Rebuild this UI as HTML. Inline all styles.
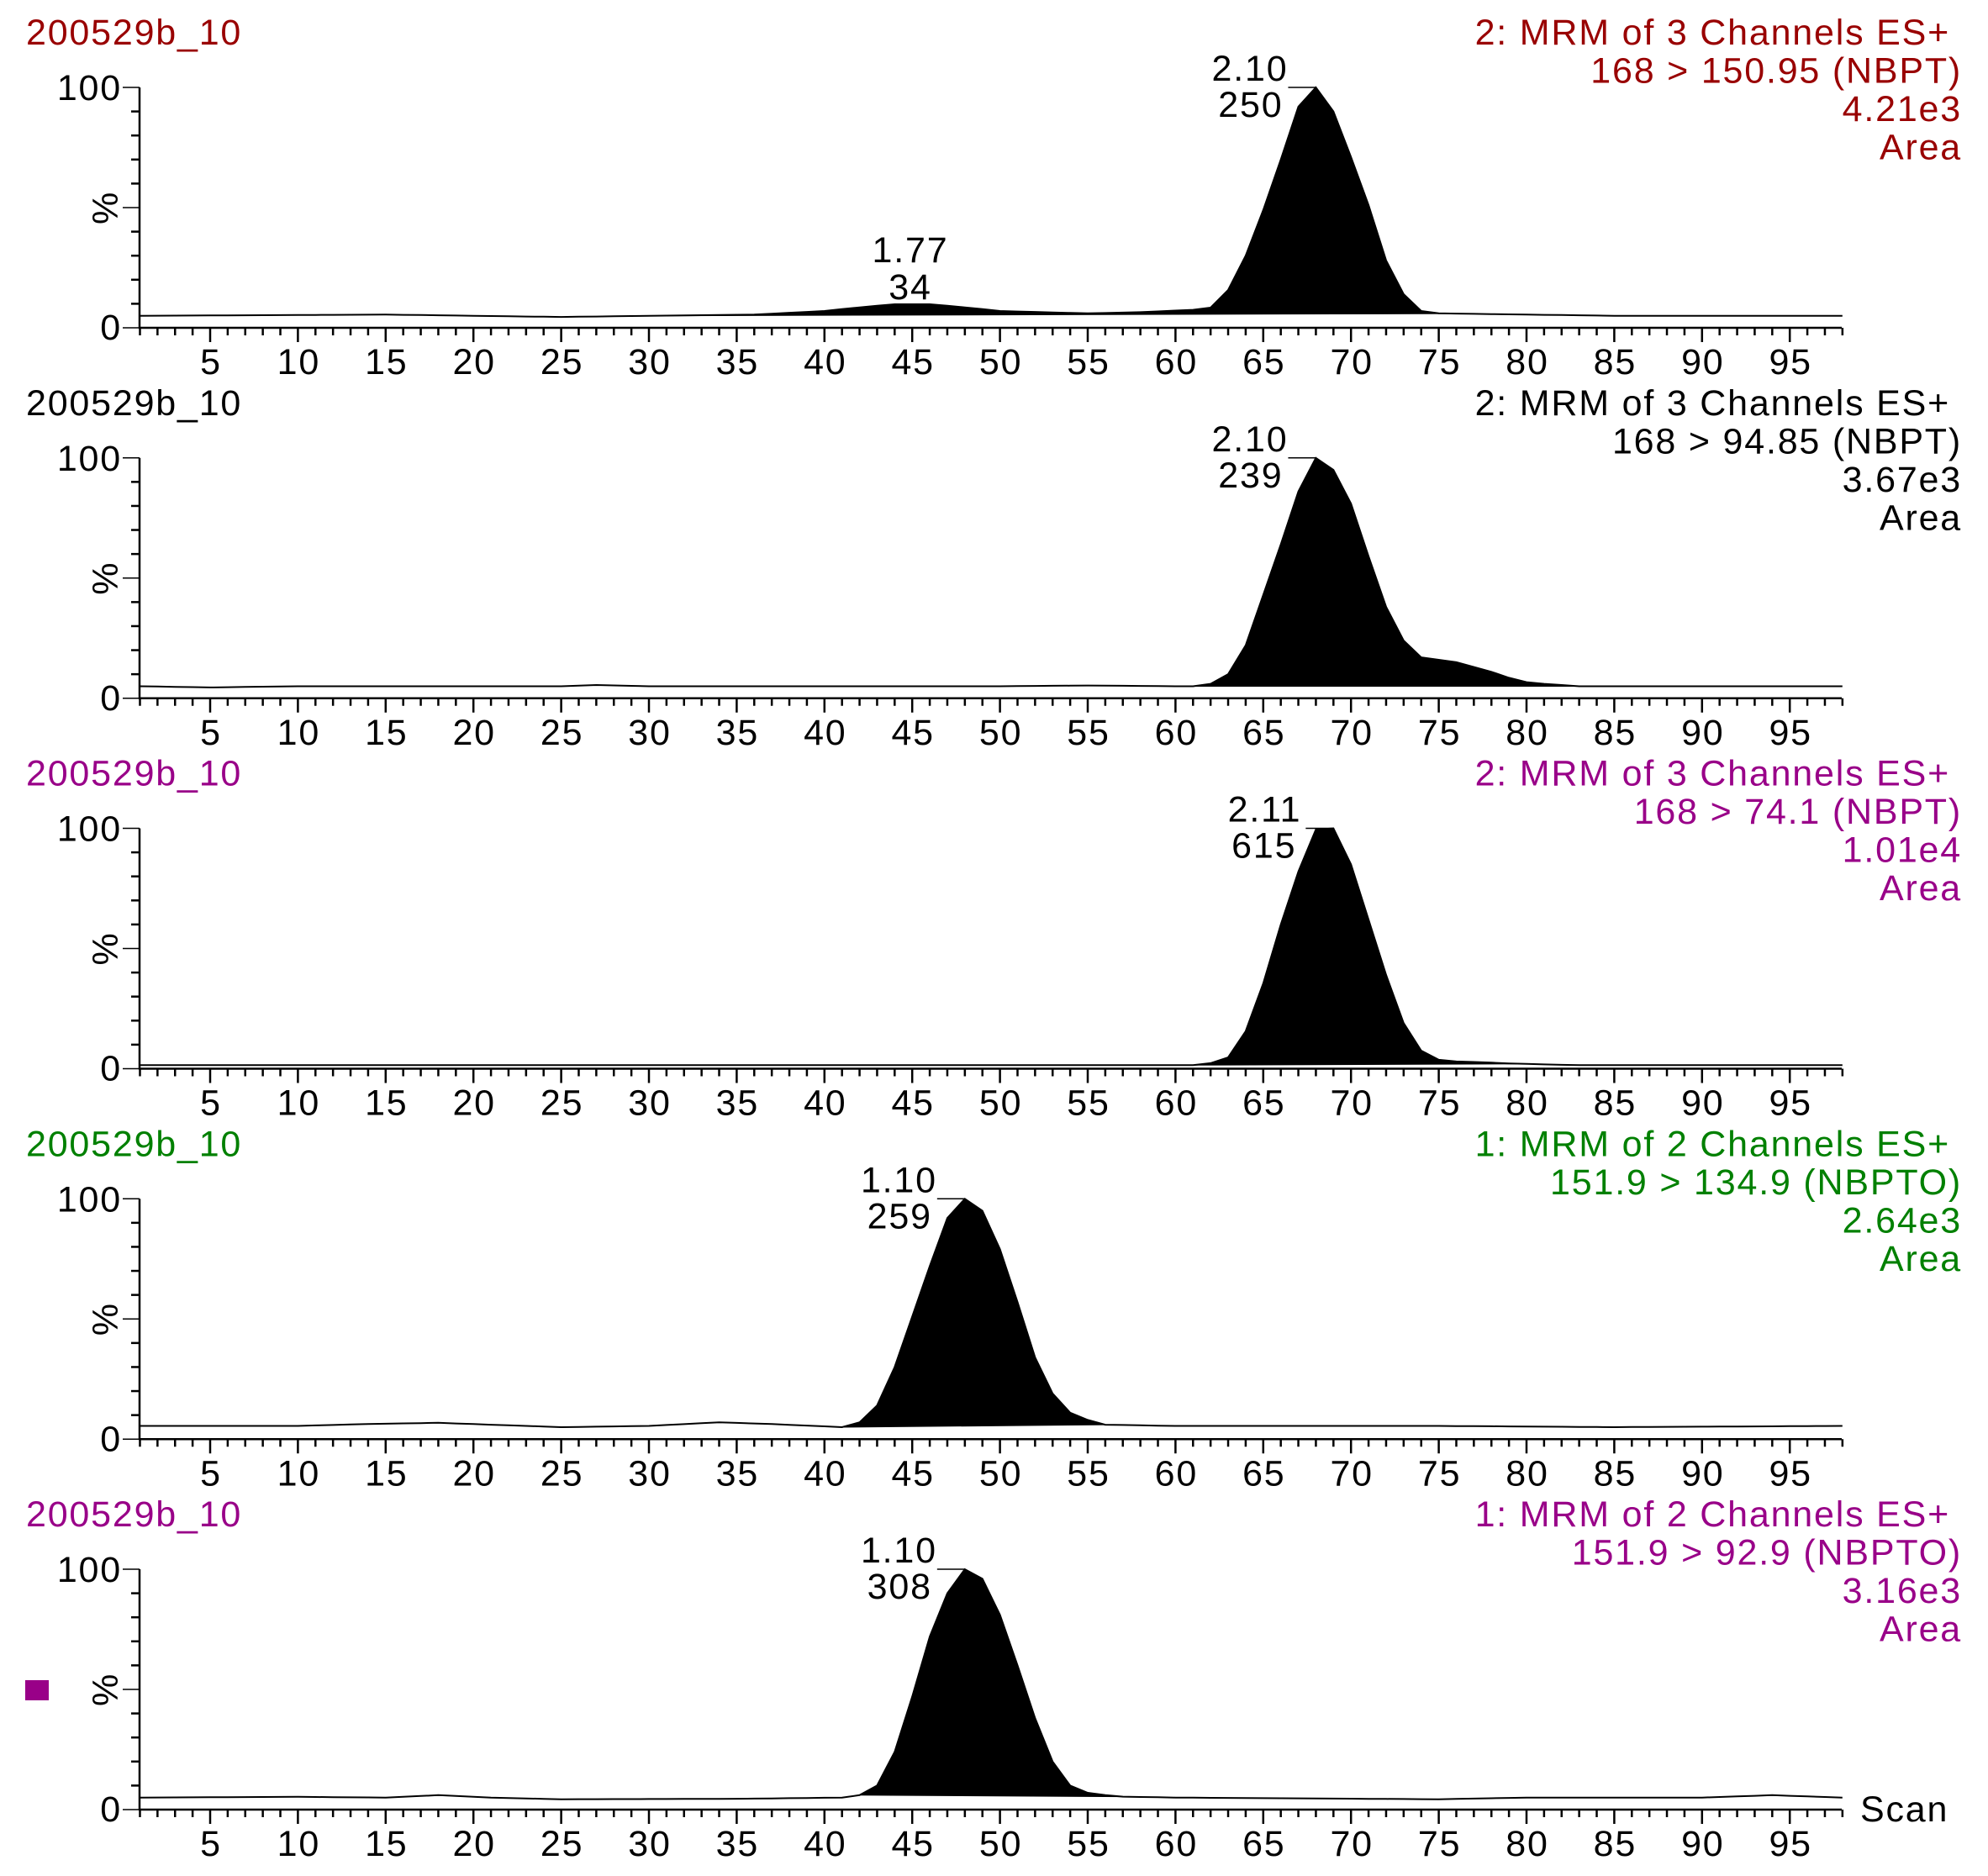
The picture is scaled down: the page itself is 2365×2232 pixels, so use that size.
<!DOCTYPE html>
<html><head><meta charset="utf-8"><style>
html,body{margin:0;padding:0;background:#fff;}
svg{display:block;font-family:"Liberation Sans",Arial,sans-serif;}
svg text{letter-spacing:1.8px;}
</style></head><body>
<svg id="s" width="2365" height="2232" viewBox="0 0 2365 2232" xmlns="http://www.w3.org/2000/svg"></svg>
<script>
var S=document.getElementById('s');
var NS='http://www.w3.org/2000/svg';
function el(t,a,txt){var e=document.createElementNS(NS,t);for(var k in a)e.setAttribute(k,a[k]);if(txt!==undefined)e.textContent=txt;S.appendChild(e);return e;}
var X0=145.6,U=20.88,AX=166,AXR=2191,H=286,FS=43;
function px(s){return X0+s*U;}
function interp(pts,x){for(var i=0;i<pts.length-1;i++){if(x>=pts[i][0]&&x<=pts[i+1][0]){var t=(x-pts[i][0])/(pts[i+1][0]-pts[i][0]);return pts[i][1]+t*(pts[i+1][1]-pts[i][1]);}}return pts[pts.length-1][1];}
var panels=[
 {col:'#990000',r:['2: MRM of 3 Channels ES+','168 > 150.95 (NBPT)','4.21e3','Area'],
  base:[[1,5],[15,5.5],[20,5],[25,4.5],[30,5],[36,5.5],[40,7],[42,8.5],[44,9.8],[46,9.8],[48,8.5],[50,7],[55,6],[58,6.5],[61,7.5],[80,5.5],[85,5],[98,5]],
  peak:{62:8.4,63:15.7,64:30,65:49,66:70,67:92,68:100,69:90,70:71,71:51,72:28,73:14,74:7,75:6},
  fill:[30,76],lab:{s:68,a:'2.10',b:'250',dx:33},lab2:{x:1083,a:'1.77',b:'34'}},
 {col:'#000000',r:['2: MRM of 3 Channels ES+','168 > 94.85 (NBPT)','3.67e3','Area'],
  base:[[1,5],[5,4.5],[10,5],[25,5],[27,5.5],[30,5],[50,5],[55,5.3],[60,5],[98,5]],
  peak:{62:6,63:10,64:22,65:43,66:64,67:86,68:100,69:95,70:81,71:59,72:38,73:24,74:17,75:16,76:15,77:13,78:11,79:8.5,80:6.7,81:6,82:5.5},
  fill:[61,84],lab:{s:68,a:'2.10',b:'239',dx:33}},
 {col:'#990088',r:['2: MRM of 3 Channels ES+','168 > 74.1 (NBPT)','1.01e4','Area'],
  base:[[1,1.5],[98,1.5]],
  peak:{62:2.3,63:4.7,64:15.6,65:35.5,66:60,67:82,68:99.5,69:100,70:85,71:62,72:39,73:19,74:7.5,75:3.7,76:3,77:2.8,78:2.5,79:2.2,80:2,81:1.8,82:1.6},
  fill:[61,80],lab:{s:69,a:'2.11',b:'615',dx:38}},
 {col:'#008000',r:['1: MRM of 2 Channels ES+','151.9 > 134.9 (NBPTO)','2.64e3','Area'],
  base:[[1,5.5],[10,5.5],[14,6.3],[18,6.8],[21,6],[25,5],[30,5.5],[34,7],[37,6.3],[41,5],[56,6],[60,5.5],[75,5.5],[85,5],[98,5.5]],
  peak:{42:7,43:14,44:30,45:51,46:72,47:92,48:100,49:95,50:79,51:57,52:34,53:19,54:11,55:8},
  fill:[41,56],lab:{s:48,a:'1.10',b:'259',dx:33}},
 {col:'#990088',r:['1: MRM of 2 Channels ES+','151.9 > 92.9 (NBPTO)','3.16e3','Area'],
  base:[[1,5],[10,5.3],[15,5],[18,6],[21,5],[25,4.3],[35,4.5],[41,5],[56,5.5],[60,5],[75,4.3],[80,5],[90,5],[94,6],[98,5]],
  peak:{42:6,43:10,44:24,45:47,46:72,47:90,48:100,49:96,50:81,51:60,52:38,53:20,54:10,55:7,56:6},
  fill:[42,57],lab:{s:48,a:'1.10',b:'308',dx:33}}
];
var SP=440.75;
panels.forEach(function(p,k){
  var top=104+k*SP, zero=top+H;
  function py(v){return zero-v*H/100;}
  el('text',{x:31,y:top-51,'font-size':FS,fill:p.col},'200529b_10');
  p.r.forEach(function(t,i){el('text',{x:i==0?2320:2334,y:top-51+i*45.5,'font-size':FS,fill:p.col,'text-anchor':'end'},t);});
  el('line',{x1:AX,y1:top,x2:AX,y2:zero+1,stroke:'#000','stroke-width':2.5});
  el('line',{x1:AX-1,y1:zero,x2:AXR,y2:zero,stroke:'#000','stroke-width':2.5});
  for(var i=0;i<=10;i++){var y=zero-i*H/10;var L=(i%5==0)?20:10;el('line',{x1:AX-L,y1:y,x2:AX,y2:y,stroke:'#000','stroke-width':(i%5==0)?1.5:2.5});}
  el('text',{x:145,y:top+15,'font-size':FS,'text-anchor':'end'},'100');
  el('text',{x:145,y:zero+14,'font-size':FS,'text-anchor':'end'},'0');
  el('text',{x:0,y:0,'font-size':FS,'text-anchor':'middle',transform:'translate(140,'+(top+H/2)+') rotate(-90)'},'%');
  for(var s=1;s<=98;s++){var x=px(s);var L=(s%5==0)?17:9;el('line',{x1:x,y1:zero,x2:x,y2:zero+L,stroke:'#000','stroke-width':2.5});
    if(s%5==0)el('text',{x:x+1,y:zero+55,'font-size':FS,'text-anchor':'middle'},String(s));}
  var vals=[];for(var s=1;s<=98;s++){var v=p.peak[s]!==undefined?p.peak[s]:interp(p.base,s);vals.push([s,v]);}
  var f=p.fill,pts=[];vals.forEach(function(a){if(a[0]>=f[0]&&a[0]<=f[1])pts.push(px(a[0]).toFixed(1)+','+py(a[1]).toFixed(1));});
  el('polygon',{points:pts.join(' '),fill:'#000',stroke:'#000','stroke-width':1});
  el('polyline',{points:vals.map(function(a){return px(a[0]).toFixed(1)+','+py(a[1]).toFixed(1);}).join(' '),fill:'none',stroke:'#000','stroke-width':2});
  var lx=px(p.lab.s);
  el('line',{x1:lx-33,y1:top,x2:lx,y2:top,stroke:'#000','stroke-width':1.5});
  el('text',{x:lx-p.lab.dx,y:top-8,'font-size':FS,'text-anchor':'end'},p.lab.a);
  el('text',{x:lx-p.lab.dx-6,y:top+35,'font-size':FS,'text-anchor':'end'},p.lab.b);
  if(p.lab2){el('text',{x:p.lab2.x,y:312,'font-size':FS,'text-anchor':'middle'},p.lab2.a);el('text',{x:p.lab2.x,y:356,'font-size':FS,'text-anchor':'middle'},p.lab2.b);}
  if(k==4){el('text',{x:2213,y:zero+14,'font-size':FS},'Scan');el('rect',{x:30,y:1999,width:28,height:24,fill:'#990088'});}
});
</script>
</body></html>
